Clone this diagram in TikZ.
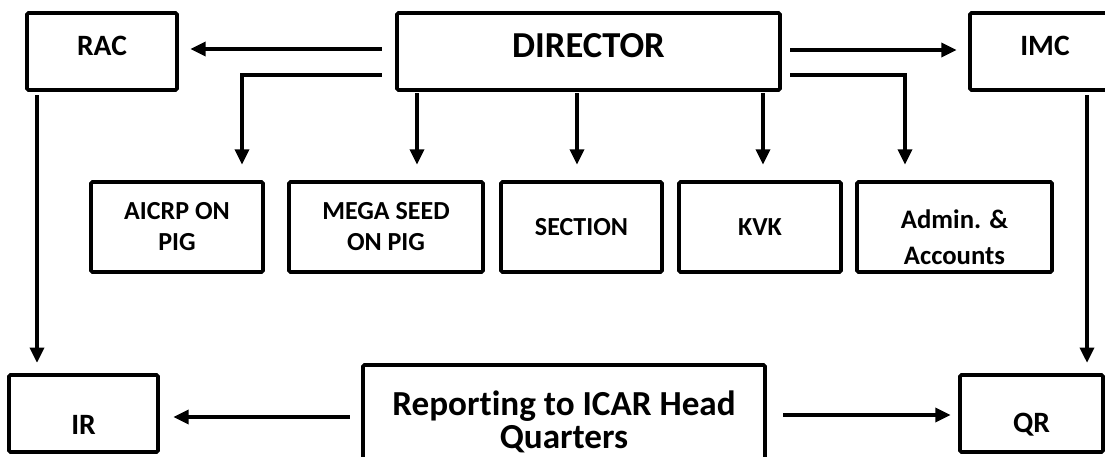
\documentclass[tikz,border=0pt]{standalone}
\usepackage{fontspec}
\setmainfont{Carlito}[Ligatures={NoCommon,NoContextual}]
\usetikzlibrary{arrows.meta}

\tikzset{
    kasten/.style={draw, line width=2.6pt, rounded corners=1pt, align=center, inner sep=2pt},
    pfeil/.style={line width=2.4pt, -{Triangle[length=0.38cm,width=0.35cm]}},
    oben/.style={kasten, minimum height=77*\s, text depth=8pt, font=\bfseries\fontsize{21}{25}\selectfont},
    mitte/.style={kasten, minimum height=90*\s, font=\bfseries\fontsize{18.5}{22}\selectfont},
    unten/.style={kasten, minimum height=77*\s, text height=30pt, font=\bfseries\fontsize{21}{25}\selectfont},
}

\begin{document}
\begin{tikzpicture}
                % Einheit (1 Pixel)
                \def\s{0.025cm}
                \useasboundingbox (0,0) rectangle (1105*\s, -456*\s);

                % obere Reihe
                \node[oben, minimum width=150*\s] (rac) at (102*\s, -51.5*\s) {RAC};
                \node[oben, minimum width=383*\s, font=\bfseries\fontsize{26}{30}\selectfont] (dir) at (588.5*\s, -51.5*\s) {DIRECTOR};
                \node[oben, minimum width=150*\s] (imc) at (1045*\s, -51.5*\s) {IMC};

                % mittlere Reihe
                \node[mitte, minimum width=172*\s] (aicrp) at (177*\s, -227*\s) {AICRP ON\\PIG};
                \node[mitte, minimum width=194*\s] (mega) at (386*\s, -227*\s) {MEGA SEED\\ON PIG};
                \node[mitte, minimum width=161*\s] (section) at (581.5*\s, -227*\s) {SECTION};
                \node[mitte, minimum width=162*\s] (kvk) at (760*\s, -227*\s) {KVK};
                \node[mitte, minimum width=195*\s, text height=54pt, font=\bfseries\fontsize{19}{25.6}\selectfont] (admin) at (954.5*\s, -227*\s) {Admin. \&\\Accounts};

                % untere Reihe
                \node[unten, minimum width=149*\s] (ir) at (83.5*\s, -413.5*\s) {IR};
                \node[kasten, minimum width=402*\s, minimum height=114*\s, font=\bfseries\fontsize{25}{23}\selectfont] (rep) at (564*\s, -422*\s) {Reporting to ICAR Head\\Quarters};
                \node[unten, minimum width=143*\s] (qr) at (1031.5*\s, -413.5*\s) {QR};

                % Pfeile vom Direktor
                \draw[pfeil, shorten <=0.34cm, shorten >=0.29cm] ([yshift=2.5*\s]dir.west) -- ([yshift=2.5*\s]rac.east);
                \draw[pfeil, shorten <=0.21cm, shorten >=0.29cm] ([yshift=1.5*\s]dir.east) -- ([yshift=1.5*\s]imc.west);
                \draw[pfeil, shorten <=0.34cm, shorten >=0.39cm] ([yshift=-23.5*\s]dir.west) -| ([xshift=65*\s]aicrp.north);
                \draw[pfeil, shorten <=0.21cm, shorten >=0.39cm] ([yshift=-23.5*\s]dir.east) -| ([xshift=-49.5*\s]admin.north);
                \draw[pfeil, shorten <=0.04cm, shorten >=0.39cm] ([xshift=31*\s]mega.north |- dir.south) -- ([xshift=31*\s]mega.north);
                \draw[pfeil, shorten <=0.04cm, shorten >=0.39cm] ([xshift=-4.5*\s]section.north |- dir.south) -- ([xshift=-4.5*\s]section.north);
                \draw[pfeil, shorten <=0.04cm, shorten >=0.39cm] ([xshift=3*\s]kvk.north |- dir.south) -- ([xshift=3*\s]kvk.north);

                % Seiten nach unten
                \draw[pfeil, shorten <=0.09cm, shorten >=0.26cm] ([xshift=-65*\s]rac.south) -- ([xshift=-65*\s]rac.south |- ir.north);
                \draw[pfeil, shorten <=0.09cm, shorten >=0.26cm] ([xshift=42*\s]imc.south) -- ([xshift=42*\s]imc.south |- qr.north);

                % Berichte
                \draw[pfeil, shorten <=0.29cm, shorten >=0.34cm] ([yshift=5*\s]rep.west) -- ([yshift=5*\s]rep.west -| ir.east);
                \draw[pfeil, shorten <=0.41cm, shorten >=0.19cm] ([yshift=7*\s]rep.east) -- ([yshift=7*\s]rep.east -| qr.west);
            \end{tikzpicture}
\end{document}
